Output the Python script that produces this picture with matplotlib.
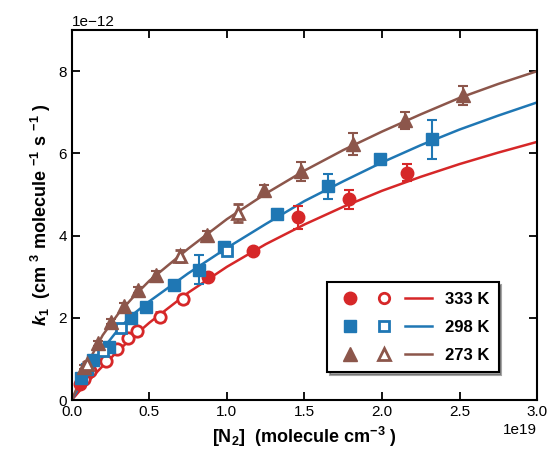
import numpy as np
import matplotlib.pyplot as plt
from matplotlib.lines import Line2D

plt.rcParams['font.family'] = 'Liberation Sans'
plt.rcParams['mathtext.fontset'] = 'custom'
plt.rcParams['mathtext.rm'] = 'Liberation Sans'
plt.rcParams['mathtext.bf'] = 'Liberation Sans:bold'
plt.rcParams['mathtext.it'] = 'Liberation Sans:italic'
plt.rcParams['mathtext.bfit'] = 'Liberation Sans:bold:italic'

XS = 1e19   # [N2] unit
YS = 1e-12  # k1 unit

temps = ['333 K', '298 K', '273 K']
colors = ['#d62728', '#1f77b4', '#8c564b']
markers = ['o', 's', '^']

# filled symbols
n2_filled = [
    [0.05, 0.88, 1.17, 1.46, 1.79, 2.16],
    [0.06, 0.10, 0.14, 0.24, 0.38, 0.48, 0.66, 0.82, 0.98, 1.32, 1.65, 1.99, 2.32],
    [0.08, 0.17, 0.25, 0.34, 0.43, 0.54, 0.87, 1.24, 1.48, 1.81, 2.15, 2.52],
]
k_filled = [
    [0.38, 3.00, 3.63, 4.45, 4.88, 5.53],
    [0.53, 0.75, 0.97, 1.30, 2.00, 2.27, 2.80, 3.17, 3.72, 4.52, 5.20, 5.87, 6.34],
    [0.80, 1.38, 1.90, 2.28, 2.68, 3.05, 4.02, 5.10, 5.56, 6.22, 6.80, 7.41],
]
err_filled = [
    [0.05, 0.08, 0.08, 0.28, 0.24, 0.20],
    [0.05, 0.05, 0.05, 0.08, 0.10, 0.08, 0.08, 0.35, 0.12, 0.12, 0.30, 0.05, 0.47],
    [0.05, 0.06, 0.06, 0.08, 0.08, 0.08, 0.08, 0.12, 0.22, 0.27, 0.20, 0.23],
]

# open symbols
n2_open = [
    [0.08, 0.12, 0.22, 0.29, 0.36, 0.42, 0.57, 0.72],
    [0.20, 0.32, 1.00],
    [0.10, 0.70, 1.07],
]
k_open = [
    [0.50, 0.70, 0.95, 1.25, 1.52, 1.67, 2.03, 2.46],
    [1.20, 1.76, 3.62],
    [0.88, 3.50, 4.55],
]
err_open = [
    [0.06, 0.06, 0.06, 0.08, 0.08, 0.08, 0.10, 0.10],
    [0.08, 0.08, 0.10],
    [0.05, 0.15, 0.22],
]

# fitted falloff curves
n2_fit = [0, 0.05, 0.1, 0.2, 0.3, 0.4, 0.5, 0.75, 1.0, 1.25, 1.5, 1.75, 2.0, 2.25, 2.5, 2.75, 3.0]
k_fit = [
    [0, 0.22, 0.43, 0.83, 1.20, 1.55, 1.88, 2.61, 3.24, 3.79, 4.27, 4.70, 5.09, 5.43, 5.74, 6.02, 6.28],
    [0, 0.33, 0.66, 1.24, 1.72, 2.10, 2.40, 3.08, 3.70, 4.28, 4.84, 5.32, 5.78, 6.20, 6.58, 6.92, 7.24],
    [0, 0.45, 0.88, 1.58, 2.10, 2.52, 2.90, 3.68, 4.40, 5.02, 5.58, 6.08, 6.53, 6.95, 7.35, 7.69, 8.00],
]

fig = plt.figure(figsize=(5.52, 4.59), dpi=100)
ax = fig.add_axes([0.130, 0.1285, 0.843, 0.806])

ms = [9, 8.5, 9.5]
filled_h, open_h, line_h = [], [], []
for i in range(3):
    c = colors[i]
    ax.plot(np.array(n2_fit) * XS, np.array(k_fit[i]) * YS, '-', color=c, lw=1.8, zorder=2)
    ax.errorbar(np.array(n2_filled[i]) * XS, np.array(k_filled[i]) * YS,
                yerr=np.array(err_filled[i]) * YS, fmt=markers[i], color=c,
                ms=ms[i], mec=c, elinewidth=1.5, capsize=3.6, capthick=1.5, zorder=3)
    ax.errorbar(np.array(n2_open[i]) * XS, np.array(k_open[i]) * YS,
                yerr=np.array(err_open[i]) * YS, fmt=markers[i], color=c,
                ms=ms[i] - 0.8, mfc='white', mec=c, mew=2, elinewidth=1.5,
                capsize=3.6, capthick=1.5, zorder=3)
    filled_h.append(Line2D([], [], ls='none', marker=markers[i], color=c, ms=ms[i]))
    open_h.append(Line2D([], [], ls='none', marker=markers[i], color=c, mfc='white',
                         mew=2, ms=ms[i] - 1.5))
    line_h.append(Line2D([], [], color=c, lw=1.8))

ax.set_xlim(0, 3e19)
ax.set_ylim(0, 9e-12)
ax.set_xticks(np.arange(0, 3.01, 0.5) * XS)
ax.set_yticks(np.arange(0, 9, 2) * YS)
ax.tick_params(direction='in', top=True, right=True, length=6, width=1.3, labelsize=11)
for s in ax.spines.values():
    s.set_linewidth(1.5)
ax.xaxis.get_offset_text().set_fontsize(11)
ax.yaxis.get_offset_text().set_fontsize(11)

ax.set_xlabel(r'[N$_\mathbf{2}$]  (molecule cm$^{\mathbf{-3}}$ )', fontsize=13, fontweight='bold')
ax.set_ylabel(r'$\mathbfit{k}_\mathbf{1}$  (cm $^\mathbf{3}$ molecule $^{\mathbf{-1}}$ s $^{\mathbf{-1}}$ )',
              fontsize=13, fontweight='bold')

leg = ax.legend(filled_h + open_h + line_h, [''] * 6 + temps, ncol=3,
                loc='lower right', bbox_to_anchor=(0.935, 0.052),
                prop={'weight': 'bold', 'size': 12}, frameon=True, shadow=True,
                fancybox=False, edgecolor='black', handlelength=1.6,
                handletextpad=0.8, columnspacing=-0.35, labelspacing=0.8,
                borderpad=0.55)
leg.get_frame().set_linewidth(1.5)

fig.savefig('out.png', dpi=100)
